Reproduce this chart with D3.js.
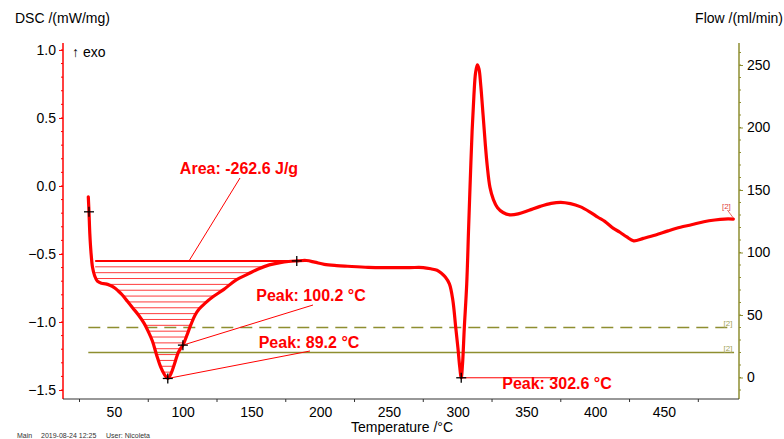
<!DOCTYPE html>
<html>
<head>
<meta charset="utf-8">
<script src="https://cdn.jsdelivr.net/npm/d3@7"></script>
<style>
  body { margin: 0; background: #fff; }
  svg { display: block; font-family: "Liberation Sans", Arial, sans-serif; }
</style>
</head>
<body>
<svg id="chart" width="784" height="439"></svg>
<script>
// DSC curve (temperature in degC, DSC in mW/mg)
var dscTemp = [31.4, 31.9, 32.5, 33.3, 34.5, 36, 38, 41, 44, 47, 50, 53, 56, 60, 64, 68, 72, 75, 78, 81, 84, 87, 89.2,
  91.5, 94, 97, 100.2, 103, 106, 109, 112, 116, 122, 130, 139, 147, 155, 163, 171, 177, 183, 190, 196, 203, 212,
  220, 235, 250, 265, 275, 281, 285, 288, 291, 294, 296.5, 298.5, 300.2, 301.5, 302.6, 303.6, 304.8, 306.6, 308,
  309.2, 310.5, 311.8, 313, 314.3, 315.5, 316.8, 318.5, 320, 321.5, 323.5, 326, 329, 333, 338, 344, 352, 360, 368,
  375, 382, 389, 396, 402, 407, 413, 418, 423, 428, 435, 444, 453, 462, 470, 479, 487, 494, 500.5];
var dscValue = [-0.08, -0.19, -0.35, -0.48, -0.6, -0.66, -0.7, -0.715, -0.72, -0.73, -0.745, -0.77, -0.8, -0.85, -0.9,
  -0.95, -1.01, -1.07, -1.14, -1.24, -1.33, -1.39, -1.415, -1.38, -1.31, -1.22, -1.17, -1.1, -1.02, -0.95, -0.905,
  -0.865, -0.815, -0.76, -0.69, -0.65, -0.61, -0.58, -0.563, -0.555, -0.551, -0.548, -0.56, -0.576, -0.585, -0.59,
  -0.598, -0.6, -0.6, -0.6, -0.61, -0.62, -0.64, -0.67, -0.72, -0.84, -1.03, -1.19, -1.33, -1.41, -1.3, -1.05,
  -0.72, -0.3, 0.05, 0.4, 0.66, 0.83, 0.89, 0.86, 0.74, 0.52, 0.32, 0.15, -0.01, -0.1, -0.16, -0.195, -0.212,
  -0.205, -0.178, -0.15, -0.128, -0.12, -0.13, -0.152, -0.19, -0.23, -0.26, -0.31, -0.34, -0.375, -0.403, -0.385,
  -0.36, -0.33, -0.303, -0.285, -0.263, -0.25, -0.243, -0.243];

// purge gas flows (ml/min)
var flowValues = [40, 20];
var flowDash = ['12,7', null];
var flowLabels = ['[2]', '[2]'];
var flowStartTemp = 31.4;
var flowEndTemp = 501;

// evaluation marks
var markerTemps = [31.9, 89.2, 100.2, 183, 302.6];
var markerValues = [-0.19, -1.415, -1.17, -0.551, -1.41];
var peakTemps = [100.2, 89.2, 302.6];
var peakValues = [-1.17, -1.415, -1.41];
var peakLabels = ['Peak: 100.2 °C', 'Peak: 89.2 °C', 'Peak: 302.6 °C'];
var areaStartTemp = 36.4;
var areaEndTemp = 183;
var areaBaseline = -0.551;
var areaLabel = 'Area: -262.6 J/g';

// axes
var tempTicks = [50, 100, 150, 200, 250, 300, 350, 400, 450];
var dscTicks = [1.0, 0.5, 0.0, -0.5, -1.0, -1.5];
var flowTicks = [0, 50, 100, 150, 200, 250];

var red = '#ff0000';
var olive = '#8e8e30';
var pLeft = 63, pRight = 739, pTop = 43, pBottom = 399;

var svg = d3.select('#chart');
svg.append('rect').attr('width', 784).attr('height', 439).attr('fill', '#fff');

var x = d3.scaleLinear().domain([13, 504.6]).range([pLeft, pRight]);
var y = d3.scaleLinear().domain([-1.566, 1.051]).range([pBottom, pTop]);
var yFlow = d3.scaleLinear().domain([-17.2, 267.6]).range([pBottom, pTop]);

var dsc = dscTemp.map(function(t, i) { return { t: t, v: dscValue[i] }; });

// hatched area, clipped to the region between curve and baseline
var areaPts = dsc.filter(function(d) { return d.t >= 35 && d.t <= areaEndTemp; });
svg.append('clipPath').attr('id', 'areaClip')
  .append('path')
  .attr('d', d3.area()
    .x(function(d) { return x(d.t); })
    .y0(y(areaBaseline))
    .y1(function(d) { return y(d.v); })
    .curve(d3.curveCatmullRom)(areaPts));

var yBase = y(areaBaseline);
svg.append('g').attr('clip-path', 'url(#areaClip)')
  .selectAll('line')
  .data(d3.range(yBase + 5.9, y(-1.43), 5.85))
  .enter().append('line')
  .attr('x1', x(areaStartTemp)).attr('x2', x(areaEndTemp))
  .attr('y1', function(d) { return d; }).attr('y2', function(d) { return d; })
  .attr('stroke', '#ff3c3c').attr('stroke-width', 1);

svg.append('line')
  .attr('x1', x(areaStartTemp)).attr('x2', x(areaEndTemp))
  .attr('y1', yBase).attr('y2', yBase)
  .attr('stroke', red).attr('stroke-width', 2);

// flow lines
flowValues.forEach(function(f, i) {
  svg.append('line')
    .attr('x1', x(flowStartTemp)).attr('x2', x(flowEndTemp))
    .attr('y1', yFlow(f)).attr('y2', yFlow(f))
    .attr('stroke', olive).attr('stroke-width', 1.5)
    .attr('stroke-dasharray', flowDash[i]);
  svg.append('text')
    .attr('x', x(flowEndTemp) - 6).attr('y', yFlow(f) - 2)
    .attr('text-anchor', 'middle').attr('font-size', 8).attr('fill', '#a3a35a')
    .text(flowLabels[i]);
});

// leader lines
svg.append('line')
  .attr('x1', 240).attr('y1', 178).attr('x2', 189).attr('y2', yBase)
  .attr('stroke', red).attr('stroke-width', 1);
var leaderEnds = [[313, 305], [310, 351], [558, y(peakValues[2])]];
peakTemps.forEach(function(t, i) {
  svg.append('line')
    .attr('x1', x(t)).attr('y1', y(peakValues[i]))
    .attr('x2', leaderEnds[i][0]).attr('y2', leaderEnds[i][1])
    .attr('stroke', red).attr('stroke-width', 1);
});

// DSC curve
svg.append('path')
  .datum(dsc)
  .attr('fill', 'none').attr('stroke', red).attr('stroke-width', 3.2)
  .attr('stroke-linejoin', 'round').attr('stroke-linecap', 'round')
  .attr('d', d3.line()
    .x(function(d) { return x(d.t); })
    .y(function(d) { return y(d.v); })
    .curve(d3.curveCatmullRom));

// end label of the DSC curve
var lastT = dscTemp[dscTemp.length - 1], lastV = dscValue[dscValue.length - 1];
svg.append('line')
  .attr('x1', x(lastT) - 6).attr('y1', y(lastV) - 9)
  .attr('x2', x(lastT)).attr('y2', y(lastV) - 1)
  .attr('stroke', '#e04040').attr('stroke-width', 0.8);
svg.append('text')
  .attr('x', x(lastT) - 7).attr('y', y(lastV) - 10)
  .attr('text-anchor', 'middle').attr('font-size', 8).attr('fill', '#e04040')
  .text('[2]');

// markers
var mk = svg.append('g').selectAll('g').data(markerTemps).enter().append('g')
  .attr('transform', function(t, i) { return 'translate(' + x(t) + ',' + y(markerValues[i]) + ')'; });
mk.append('line').attr('x1', -5).attr('x2', 5).attr('stroke', '#000').attr('stroke-width', 1.3);
mk.append('line').attr('y1', -5).attr('y2', 5).attr('stroke', '#000').attr('stroke-width', 1.3);

// annotation texts
var labelPos = [[311, 301], [309, 348], [557, 389]];
peakLabels.forEach(function(s, i) {
  svg.append('text')
    .attr('x', labelPos[i][0]).attr('y', labelPos[i][1])
    .attr('text-anchor', 'middle').attr('font-size', 16).attr('font-weight', 'bold')
    .attr('fill', red).text(s);
});
svg.append('text')
  .attr('x', 239).attr('y', 174)
  .attr('text-anchor', 'middle').attr('font-size', 16).attr('font-weight', 'bold')
  .attr('fill', red).text(areaLabel);

// left axis (DSC)
var yAxis = svg.append('g').attr('transform', 'translate(' + pLeft + ',0)')
  .call(d3.axisLeft(y).tickValues(dscTicks).tickSize(4).tickFormat(d3.format('.1f')));
yAxis.select('.domain').remove();
yAxis.selectAll('.tick line').attr('stroke', red);
yAxis.selectAll('.tick text').attr('font-size', 14).attr('fill', '#000').attr('x', -7)
  .attr('font-family', '"Liberation Sans", Arial, sans-serif');
svg.append('g').selectAll('line')
  .data(d3.range(-15, 11).map(function(k) { return k / 10; }))
  .enter().append('line')
  .attr('x1', pLeft - 2).attr('x2', pLeft)
  .attr('y1', function(d) { return y(d); }).attr('y2', function(d) { return y(d); })
  .attr('stroke', red);
svg.append('line').attr('x1', pLeft).attr('x2', pLeft).attr('y1', pTop).attr('y2', pBottom)
  .attr('stroke', red).attr('stroke-width', 1.5);

// right axis (flow)
var fAxis = svg.append('g').attr('transform', 'translate(' + pRight + ',0)')
  .call(d3.axisRight(yFlow).tickValues(flowTicks).tickSize(4).tickFormat(d3.format('d')));
fAxis.select('.domain').remove();
fAxis.selectAll('.tick line').attr('stroke', olive);
fAxis.selectAll('.tick text').attr('font-size', 14).attr('fill', '#000').attr('x', 8)
  .attr('font-family', '"Liberation Sans", Arial, sans-serif');
svg.append('g').selectAll('line')
  .data(d3.range(-10, 261, 10))
  .enter().append('line')
  .attr('x1', pRight).attr('x2', pRight + 2)
  .attr('y1', function(d) { return yFlow(d); }).attr('y2', function(d) { return yFlow(d); })
  .attr('stroke', olive);
svg.append('line').attr('x1', pRight).attr('x2', pRight).attr('y1', pTop).attr('y2', pBottom)
  .attr('stroke', olive).attr('stroke-width', 1.5);

// bottom axis (temperature)
var xAxis = svg.append('g').attr('transform', 'translate(0,' + pBottom + ')')
  .call(d3.axisBottom(x).tickValues(tempTicks).tickSize(0).tickPadding(8));
xAxis.select('.domain').remove();
xAxis.selectAll('.tick text').attr('font-size', 14).attr('fill', '#000')
  .attr('font-family', '"Liberation Sans", Arial, sans-serif');
svg.append('g').selectAll('line')
  .data(d3.range(25, 500, 50))
  .enter().append('line')
  .attr('x1', function(d) { return x(d); }).attr('x2', function(d) { return x(d); })
  .attr('y1', pBottom).attr('y2', pBottom + 3)
  .attr('stroke', '#333');
svg.append('line').attr('x1', pLeft).attr('x2', pRight).attr('y1', pBottom).attr('y2', pBottom)
  .attr('stroke', '#333').attr('stroke-width', 1.2);

// axis titles
svg.append('text').attr('x', 15).attr('y', 23).attr('font-size', 14).attr('fill', '#000')
  .text('DSC /(mW/mg)');
svg.append('text').attr('x', 72).attr('y', 57).attr('font-size', 14).attr('fill', '#000')
  .text('\u2191 exo');
svg.append('text').attr('x', 783).attr('y', 23).attr('text-anchor', 'end').attr('font-size', 14).attr('fill', '#000')
  .text('Flow /(ml/min)');
svg.append('text').attr('x', 402).attr('y', 432).attr('text-anchor', 'middle').attr('font-size', 14).attr('fill', '#000')
  .text('Temperature /°C');

// footer
var footer = [['Main', 17], ['2019-08-24 12:25', 41], ['User: Nicoleta', 106]];
footer.forEach(function(f) {
  svg.append('text').attr('x', f[1]).attr('y', 438).attr('font-size', 7).attr('fill', '#333').text(f[0]);
});
</script>
</body>
</html>
